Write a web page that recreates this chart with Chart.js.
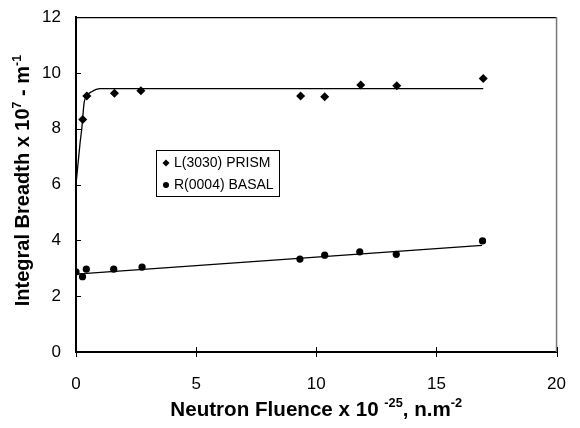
<!DOCTYPE html>
<html>
<head>
<meta charset="utf-8">
<script src="https://cdn.jsdelivr.net/npm/chart.js@4.4.0/dist/chart.umd.min.js"></script>
<style>
  html, body { margin: 0; padding: 0; background: #fff; }
  #wrap { width: 580px; height: 428px; }
</style>
</head>
<body>
<div id="wrap"><canvas id="grafico" width="580" height="428"></canvas></div>
<script>
// Fluência (x10^-25 n/m2) e largura integral (x10^7 m^-1) medidas
const prismX = [0.28, 0.45, 1.6, 2.7, 9.35, 10.35, 11.85, 13.35, 16.95];
const prismY = [8.33, 9.18, 9.27, 9.36, 9.18, 9.15, 9.57, 9.54, 9.80];

const basalX = [0, 0.27, 0.43, 1.57, 2.75, 9.32, 10.35, 11.81, 13.33, 16.92];
const basalY = [2.87, 2.70, 2.97, 2.97, 3.04, 3.33, 3.47, 3.59, 3.50, 3.98];

// Curvas de ajuste
const prismFitX = [0, 0.17, 0.24, 0.34, 0.45, 0.65, 1.0, 16.95];
const prismFitY = [6.0, 7.5, 8.0, 8.95, 9.18, 9.33, 9.44, 9.44];
const basalFitX = [0, 16.9];
const basalFitY = [2.79, 3.82];

const xTicks = [0, 5, 10, 15, 20];
const yTicks = [0, 2, 4, 6, 8, 10, 12];

const legendLabels = ['L(3030) PRISM', 'R(0004) BASAL'];

const pares = (xs, ys) => xs.map((x, i) => ({ x: x, y: ys[i] }));

const FONTE = '"Liberation Sans", Arial, sans-serif';

// Escreve texto com expoentes (partes com sup: true)
function textoRico(ctx, partes, tam) {
  let largura = 0;
  partes.forEach(p => {
    ctx.font = 'bold ' + (p.sup ? tam * 0.62 : tam) + 'px ' + FONTE;
    p.w = ctx.measureText(p.t).width;
    largura += p.w;
  });
  let x = -largura / 2;
  partes.forEach(p => {
    ctx.font = 'bold ' + (p.sup ? tam * 0.62 : tam) + 'px ' + FONTE;
    ctx.fillText(p.t, x, p.sup ? -tam * 0.42 : 0);
    x += p.w;
  });
}

const extras = {
  id: 'extras',
  afterDraw(chart) {
    const ctx = chart.ctx;
    const a = chart.chartArea;
    const sx = chart.scales.x;
    const sy = chart.scales.y;
    ctx.save();

    // moldura superior e direita
    ctx.strokeStyle = '#000';
    ctx.lineWidth = 1.2;
    ctx.beginPath();
    ctx.moveTo(a.left, a.top + 0.5);
    ctx.lineTo(a.right, a.top + 0.5);
    ctx.stroke();
    ctx.strokeStyle = '#777';
    ctx.lineWidth = 1.5;
    ctx.beginPath();
    ctx.moveTo(a.right, a.top);
    ctx.lineTo(a.right, a.bottom);
    ctx.stroke();

    // marcas dos eixos
    ctx.strokeStyle = '#000';
    ctx.lineWidth = 1;
    xTicks.forEach(v => {
      const px = Math.round(sx.getPixelForValue(v)) + 0.5;
      ctx.beginPath();
      ctx.moveTo(px, a.bottom - (v === 0 ? 0 : 5));
      ctx.lineTo(px, a.bottom + 5);
      ctx.stroke();
    });
    yTicks.forEach(v => {
      const py = Math.round(sy.getPixelForValue(v)) + 0.5;
      ctx.beginPath();
      ctx.moveTo(a.left, py);
      ctx.lineTo(a.left + 5, py);
      ctx.stroke();
    });

    // legenda
    const lx = 156.5, ly = 150.5, lw = 123, lh = 46;
    ctx.fillStyle = '#fff';
    ctx.fillRect(lx, ly, lw, lh);
    ctx.strokeStyle = '#000';
    ctx.lineWidth = 1;
    ctx.strokeRect(lx, ly, lw, lh);
    ctx.fillStyle = '#000';
    ctx.font = '14px ' + FONTE;
    ctx.textBaseline = 'middle';
    const linhas = [163, 185];
    linhas.forEach((yy, i) => {
      if (i === 0) {
        ctx.beginPath();
        ctx.moveTo(166, yy - 3.5);
        ctx.lineTo(169.5, yy);
        ctx.lineTo(166, yy + 3.5);
        ctx.lineTo(162.5, yy);
        ctx.closePath();
        ctx.fill();
      } else {
        ctx.beginPath();
        ctx.arc(166, yy, 3, 0, Math.PI * 2);
        ctx.fill();
      }
      ctx.fillText(legendLabels[i], 174, yy);
    });

    // títulos dos eixos
    ctx.textBaseline = 'alphabetic';
    ctx.save();
    ctx.translate((a.left + a.right) / 2, 416);
    textoRico(ctx, [
      { t: 'Neutron Fluence x 10 ' }, { t: '-25', sup: true },
      { t: ', n.m' }, { t: '-2', sup: true }
    ], 20.6);
    ctx.restore();

    ctx.save();
    ctx.translate(29, (a.top + a.bottom) / 2 - 4);
    ctx.rotate(-Math.PI / 2);
    textoRico(ctx, [
      { t: 'Integral Breadth x 10' }, { t: '7', sup: true },
      { t: ' - m' }, { t: '-1', sup: true }
    ], 20);
    ctx.restore();

    ctx.restore();
  }
};

new Chart(document.getElementById('grafico').getContext('2d'), {
  type: 'scatter',
  data: {
    datasets: [
      {
        label: legendLabels[0],
        data: pares(prismX, prismY),
        pointStyle: 'rectRot',
        pointRadius: 4.5,
        backgroundColor: '#000',
        borderColor: '#000',
        borderWidth: 0
      },
      {
        label: legendLabels[1],
        data: pares(basalX, basalY),
        pointStyle: 'circle',
        pointRadius: 3.6,
        backgroundColor: '#000',
        borderColor: '#000',
        borderWidth: 0
      },
      {
        label: 'ajuste prism',
        data: pares(prismFitX, prismFitY),
        showLine: true,
        pointRadius: 0,
        borderColor: '#000',
        borderWidth: 1.3,
        cubicInterpolationMode: 'monotone'
      },
      {
        label: 'ajuste basal',
        data: pares(basalFitX, basalFitY),
        showLine: true,
        pointRadius: 0,
        borderColor: '#000',
        borderWidth: 1.3
      }
    ]
  },
  options: {
    responsive: false,
    animation: false,
    layout: { padding: { left: 0, top: 14, right: 13, bottom: 0 } },
    plugins: {
      legend: { display: false },
      tooltip: { enabled: false }
    },
    scales: {
      x: {
        type: 'linear',
        min: 0,
        max: 20,
        afterBuildTicks: s => { s.ticks = xTicks.map(v => ({ value: v })); },
        afterFit: s => { s.height = 76; },
        grid: { display: false },
        border: { display: true, color: '#000', width: 2 },
        ticks: { color: '#000', padding: 14, font: { family: FONTE, size: 17 } }
      },
      y: {
        type: 'linear',
        min: 0,
        max: 12,
        afterBuildTicks: s => { s.ticks = yTicks.map(v => ({ value: v })); },
        afterFit: s => { s.width = 76; },
        grid: { display: false },
        border: { display: true, color: '#000', width: 2 },
        ticks: { color: '#000', padding: 7, font: { family: FONTE, size: 17 } }
      }
    }
  },
  plugins: [extras]
});
</script>
</body>
</html>
